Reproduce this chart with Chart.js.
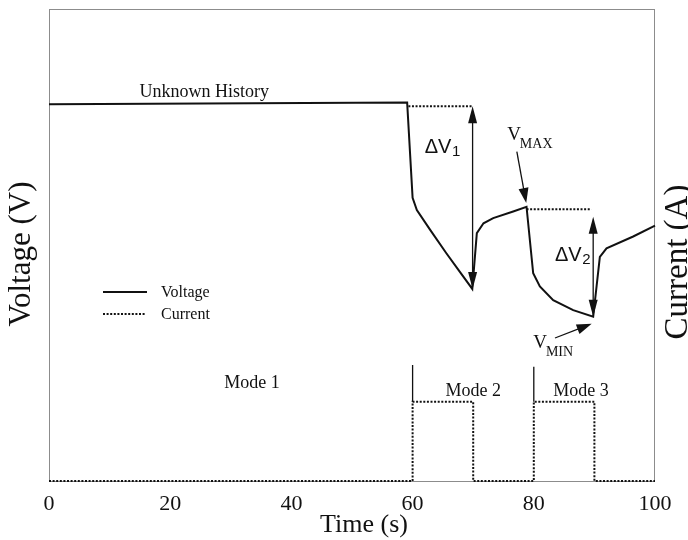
<!DOCTYPE html>
<html><head><meta charset="utf-8">
<script src="https://cdn.jsdelivr.net/npm/chart.js@4"></script>
<style>html,body{margin:0;padding:0;background:#fff}#wrap{width:688px;height:540px;position:relative}</style>
</head><body><div id="wrap"><canvas id="c" width="688" height="540"></canvas></div>
<script>
// ---- data (arbitrary units, no y ticks shown) ----
const voltageTime  = [0, 59.1, 60.0, 60.7, 62.9, 65.6, 67.8, 69.85, 70.6, 71.7, 73.3, 76.6, 78.8, 79.9, 81.0, 83.2, 86.5, 89.8, 90.9, 92.0, 96.4, 100];
const voltageValue = [79.8, 80.2, 60.0, 57.4, 53.2, 48.2, 44.3, 40.7, 52.5, 54.6, 55.7, 57.1, 58.1, 44.0, 41.2, 38.3, 36.2, 34.8, 47.5, 49.3, 51.8, 54.1];
const currentTime  = [0, 60, 60, 70, 70, 80, 80, 90, 90, 100];
const currentValue = [0, 0, 16.8, 16.8, 0, 0, 16.8, 16.8, 0, 0];
const xTickValues  = [0, 20, 40, 60, 80, 100];
const refLineFrom  = [59.3, 78.8];
const refLineTo    = [70.0, 89.5];
const refLineLevel = [79.4, 57.6];
const dividerTime  = [60, 80];
const dividerLow   = [16.8, 16.8];
const dividerHigh  = [24.6, 24.2];
const deltaTime    = [69.9, 89.8];
const deltaTop     = [79.4, 56.0];
const deltaBottom  = [40.7, 34.8];
const modeLabels   = ['Mode 1', 'Mode 2', 'Mode 3'];
const modeTime     = [33.5, 70.0, 87.8];
const modeLevel    = [20.8, 19.1, 19.1];

const SERIF = '"Liberation Serif","Times New Roman",serif';
const SANS = '"Liberation Sans",Arial,sans-serif';

function pts(xs, ys) { return xs.map((x, i) => ({x, y: ys[i]})); }

function arrowHead(ctx, x1, y1, x2, y2, len, half) {
  const a = Math.atan2(y2 - y1, x2 - x1);
  ctx.beginPath();
  ctx.moveTo(x2, y2);
  ctx.lineTo(x2 - len * Math.cos(a) + half * Math.sin(a), y2 - len * Math.sin(a) - half * Math.cos(a));
  ctx.lineTo(x2 - len * Math.cos(a) - half * Math.sin(a), y2 - len * Math.sin(a) + half * Math.cos(a));
  ctx.closePath();
  ctx.fill();
}

const decor = {
  id: 'decor',
  beforeDatasetsDraw(chart) {
    const {ctx, chartArea: a} = chart;
    ctx.save();
    ctx.strokeStyle = '#8c8c8c';
    ctx.lineWidth = 1;
    ctx.strokeRect(a.left + 0.5, a.top + 0.5, a.right - a.left - 1, a.bottom - a.top);
    ctx.restore();
  },
  afterDatasetsDraw(chart) {
    const {ctx, chartArea: a} = chart;
    const X = v => chart.scales.x.getPixelForValue(v);
    const Y = v => chart.scales.y.getPixelForValue(v);
    ctx.save();
    ctx.fillStyle = '#111';
    ctx.strokeStyle = '#111';

    // double arrows (delta V)
    ctx.lineWidth = 1.3;
    deltaTime.forEach((t, i) => {
      const x = X(t), y1 = Y(deltaTop[i]), y2 = Y(deltaBottom[i]);
      ctx.beginPath(); ctx.moveTo(x, y1 + 8); ctx.lineTo(x, y2 - 8); ctx.stroke();
      arrowHead(ctx, x, y2, x, y1, 17, 4.5);
      arrowHead(ctx, x, y1, x, y2, 17, 4.5);
    });

    // V_MAX / V_MIN pointer arrows
    const pointers = [[77.2, 69.8, 78.75, 58.9], [83.5, 30.3, 89.55, 33.3]];
    pointers.forEach(p => {
      const x1 = X(p[0]), y1 = Y(p[1]), x2 = X(p[2]), y2 = Y(p[3]);
      ctx.lineWidth = 1.3;
      const ang = Math.atan2(y2 - y1, x2 - x1);
      ctx.beginPath(); ctx.moveTo(x1, y1); ctx.lineTo(x2 - 10 * Math.cos(ang), y2 - 10 * Math.sin(ang)); ctx.stroke();
      arrowHead(ctx, x1, y1, x2, y2, 15, 5);
    });

    // texts
    ctx.textBaseline = 'alphabetic';
    ctx.textAlign = 'left';
    const dl = [[62.0, 69.5, '1'], [83.5, 46.6, '2']];
    dl.forEach(d => {
      ctx.font = '20px ' + SANS;
      const x = X(d[0]), y = Y(d[1]);
      ctx.fillText('ΔV', x, y);
      const w = ctx.measureText('ΔV').width;
      ctx.font = '15px ' + SANS;
      ctx.fillText(d[2], x + w + 0.5, y + 3);
    });
    const vl = [[75.6, 72.2, 'MAX'], [79.9, 28.2, 'MIN']];
    vl.forEach(d => {
      ctx.font = '19px ' + SERIF;
      const x = X(d[0]), y = Y(d[1]);
      ctx.fillText('V', x, y);
      const w = ctx.measureText('V').width;
      ctx.font = '14px ' + SERIF;
      ctx.fillText(d[2], x + w - 1, y + 8);
    });
    ctx.textAlign = 'center';
    ctx.textBaseline = 'middle';
    ctx.font = '18px ' + SERIF;
    modeLabels.forEach((m, i) => ctx.fillText(m, X(modeTime[i]), Y(modeLevel[i])));
    ctx.fillText('Unknown History', X(25.6), Y(82.4));

    // legend
    const lx = a.left + 54, ly1 = a.top + 283, ly2 = a.top + 305;
    ctx.lineWidth = 2;
    ctx.beginPath(); ctx.moveTo(lx, ly1); ctx.lineTo(lx + 44, ly1); ctx.stroke();
    ctx.setLineDash([2, 1.6]);
    ctx.beginPath(); ctx.moveTo(lx, ly2); ctx.lineTo(lx + 42, ly2); ctx.stroke();
    ctx.setLineDash([]);
    ctx.textAlign = 'left';
    ctx.font = '16px ' + SERIF;
    ctx.fillText('Voltage', lx + 58, ly1 + 1);
    ctx.fillText('Current', lx + 58, ly2 + 1);

    // axis titles
    ctx.textAlign = 'center';
    ctx.font = '26px ' + SERIF;
    ctx.fillText('Time (s)', (a.left + a.right) / 2 + 12, a.bottom + 44);
    ctx.save();
    ctx.translate(22, 254);
    ctx.rotate(-Math.PI / 2);
    ctx.font = '31px ' + SERIF;
    ctx.fillText('Voltage (V)', 0, 0);
    ctx.restore();
    ctx.save();
    ctx.translate(678, 262);
    ctx.rotate(-Math.PI / 2);
    ctx.font = '33px ' + SERIF;
    ctx.fillText('Current (A)', 0, 0);
    ctx.restore();
    ctx.restore();
  }
};

const refData = [];
refLineFrom.forEach((f, i) => {
  refData.push({x: f, y: refLineLevel[i]}, {x: refLineTo[i], y: refLineLevel[i]});
  if (i < refLineFrom.length - 1) refData.push({x: (refLineTo[i] + refLineFrom[i + 1]) / 2, y: null});
});
const divData = [];
dividerTime.forEach((t, i) => {
  divData.push({x: t, y: dividerLow[i]}, {x: t, y: dividerHigh[i]});
  if (i < dividerTime.length - 1) divData.push({x: (t + dividerTime[i + 1]) / 2, y: null});
});

new Chart(document.getElementById('c'), {
  type: 'line',
  data: {
    datasets: [
      {label: 'Voltage', data: pts(voltageTime, voltageValue), yAxisID: 'y', borderColor: '#111', borderWidth: 2, pointRadius: 0, tension: 0, clip: false},
      {label: 'Current', data: pts(currentTime, currentValue), yAxisID: 'y2', borderColor: '#111', borderWidth: 2, borderDash: [2, 1.6], pointRadius: 0, tension: 0, clip: false},
      {label: 'ref', data: refData, yAxisID: 'y', borderColor: '#111', borderWidth: 2, borderDash: [2, 1.6], pointRadius: 0, spanGaps: false},
      {label: 'div', data: divData, yAxisID: 'y', borderColor: '#111', borderWidth: 1.3, pointRadius: 0, spanGaps: false}
    ]
  },
  options: {
    responsive: false,
    animation: false,
    devicePixelRatio: 1,
    layout: {padding: {left: 49, right: 33, top: 9, bottom: 0}},
    plugins: {legend: {display: false}, tooltip: {enabled: false}},
    scales: {
      x: {
        type: 'linear', min: 0, max: 100,
        afterBuildTicks: s => { s.ticks = xTickValues.map(v => ({value: v})); },
        afterFit: s => { s.height = 59; },
        grid: {display: false, drawTicks: false},
        border: {display: false},
        ticks: {font: {family: SERIF, size: 22}, color: '#111', padding: 10, maxRotation: 0}
      },
      y: {display: false, min: 0, max: 100},
      y2: {display: false, min: 0, max: 100, position: 'right'}
    }
  },
  plugins: [decor]
});
</script>
</body></html>
